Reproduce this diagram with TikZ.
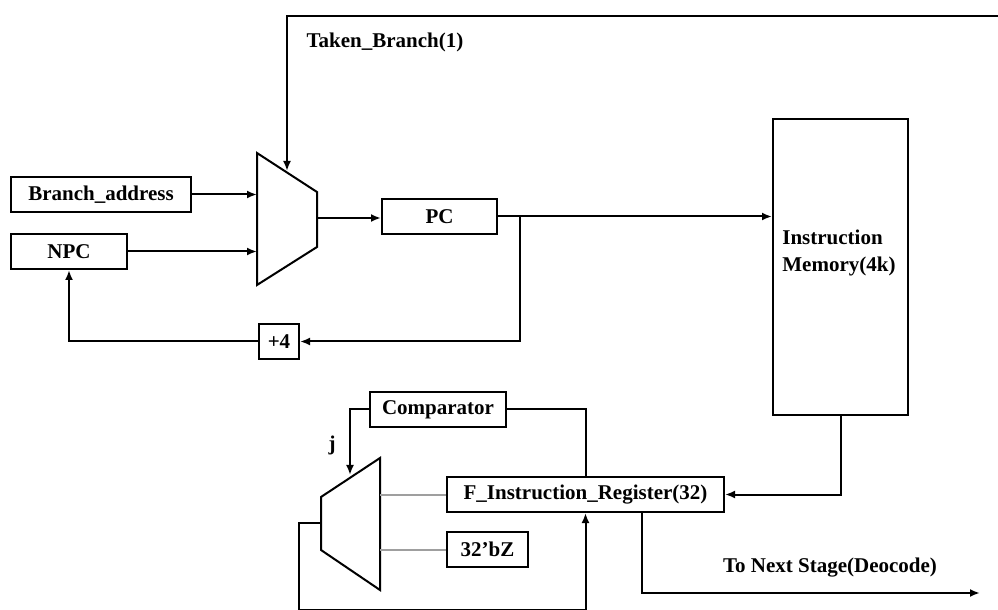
\documentclass[tikz,border=0pt]{standalone}
\usepackage{fontspec}
\setmainfont{Liberation Serif}
\usetikzlibrary{positioning, calc, arrows.meta}
\newcommand\diafont{\fontsize{10.5}{13.5}\selectfont\bfseries}

\begin{document}
\begin{tikzpicture}[
  x=0.5pt, y=-0.5pt,
  blk/.style={draw, line width=1pt, font=\diafont, inner sep=0pt, minimum height=17.5pt},
  lbl/.style={font=\diafont, inner sep=0pt},
  wire/.style={line width=1pt},
  arr/.style={wire, -{Latex[length=5pt,width=4pt]}},
  tap/.style={line width=1pt, gray!75},
]
  \useasboundingbox (0,0) rectangle (998,610);

  % Blocks
  \node[blk, minimum width=90pt] (ba) at (101,194.5) {Branch\_address};
  \node[blk, minimum width=58pt] (npc) at (69,251.5) {NPC};
  \node[blk, minimum width=57.5pt] (pc) at (439.5,216.5) {PC};
  \node[blk, minimum width=20pt] (inc) at (279,341.5) {+4};
  \node[blk, minimum width=67.5pt, minimum height=148pt] (imem) at (840.5,267) {};
  \node[lbl, anchor=west, align=left] (imemtxt) at (782,253) {Instruction\\Memory(4k)};
  \node[blk, minimum width=68pt] (cmp) at (438,409.5) {Comparator};
  \node[blk, minimum width=138.5pt] (fir) at (585.5,494.5) {F\_Instruction\_Register(32)};
  \node[blk, minimum width=40.5pt] (bz) at (487.5,549.5) {32’bZ};

  % Labels
  \node[lbl] (tblbl) at (385,42) {Taken\_Branch(1)};
  \node[lbl] (jlbl) at (332,445) {j};
  \node[lbl] (nxtlbl) at (830,568) {To Next Stage(Deocode)};

  % Muxes
  \coordinate (m1a) at (257,153);
  \coordinate (m1b) at (317,192);
  \coordinate (m1c) at (317,247);
  \coordinate (m1d) at (257,285);
  \draw[wire] (m1a) -- (m1b) -- (m1c) -- (m1d) -- cycle;
  \coordinate (m2a) at (380,458);
  \coordinate (m2b) at (380,590);
  \coordinate (m2c) at (321,550);
  \coordinate (m2d) at (321,497);
  \draw[wire] (m2a) -- (m2b) -- (m2c) -- (m2d) -- cycle;

  % Port points
  \coordinate (m1sel) at (287,171);
  \coordinate (m1out) at (317,218);
  \coordinate (m2sel) at (350,475);
  \coordinate (m2out) at (321,523);
  \coordinate (tbsrc) at (1000,16);
  \coordinate (pcsplit) at (520,216.5);
  \coordinate (loopbot) at (299,610);
  \coordinate (nxt) at (980,593);

  % Fetch path
  \draw[arr] (tbsrc) -| (m1sel);
  \draw[arr] (ba.east) -- (ba.east -| m1a);
  \draw[arr] (npc.east) -- (npc.east -| m1a);
  \draw[arr] (m1out) -- (m1out -| pc.west);
  \draw[arr] (pc.east) -- (pc.east -| imem.west);
  \draw[arr] (pcsplit) |- (inc.east);
  \draw[arr] (inc.west) -| (npc.south);

  % Instruction register path
  \draw[arr] (imem.south) |- (fir.east);
  \draw[wire] (cmp.east) -| (fir.north);
  \draw[arr] (cmp.west) -| (m2sel);
  \draw[tap] (fir.west) -- (fir.west -| m2a);
  \draw[tap] (bz.west) -- (bz.west -| m2a);
  \draw[arr] (m2out) -| (loopbot) -| (fir.south);
  \draw[arr] ([xshift=28.25pt]fir.south) |- (nxt);
\end{tikzpicture}
\end{document}
